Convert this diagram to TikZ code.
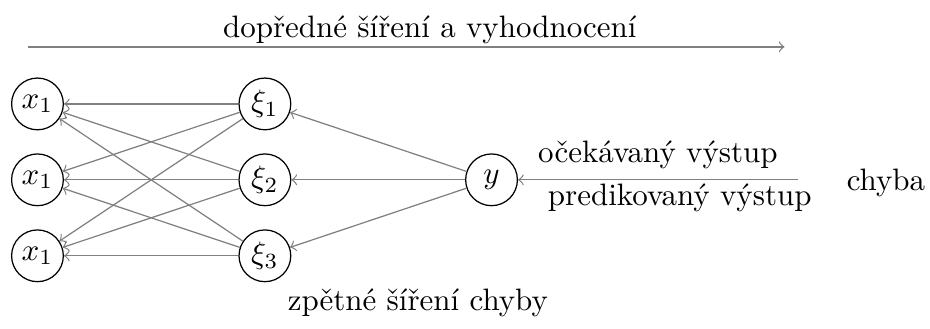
\documentclass[tikz,border=0pt]{standalone}
\usepackage{amsmath}
\usepackage{tikz}
\usetikzlibrary{arrows,shapes,positioning,calc}

\begin{document}
\begin{tikzpicture}[
  neuron/.style={circle,draw,inner sep=1pt,minimum size=16.7pt},
  tok/.style={->,gray}
  ]
  \useasboundingbox (0,0) rectangle (10.55,3.73);

  % vstupni vrstva
  \node[neuron] (x1) at (0.425,2.551) {$x_1$};
  \node[neuron] (x2) at (0.425,1.690) {$x_1$};
  \node[neuron] (x3) at (0.425,0.828) {$x_1$};

  % skryta vrstva
  \node[neuron] (h1) at (3.005,2.551) {$\xi_1$};
  \node[neuron] (h2) at (3.005,1.690) {$\xi_2$};
  \node[neuron] (h3) at (3.005,0.828) {$\xi_3$};

  % vystup
  \node[neuron] (y) at (5.576,1.690) {$y$};
  \coordinate (E) at (9.05,1.690);
  \node (chyba) at (10.05,1.656) {chyba};

  \foreach \i in {1,2,3} {
    \draw[tok] (y) -- (h\i);
    \foreach \j in {1,2,3}
      \draw[tok] (h\i) -- (x\j);
  }

  \draw[tok] (E) -- (y) node[pos=0.5,above,text=black] {očekávaný výstup};
  \node (pred) at (7.711,1.486) {predikovaný výstup};

  \coordinate (F1) at (0.318,3.198);
  \coordinate (F2) at (8.90,3.198);
  \draw[tok] (F1) -- (F2);
  \node (dopredne) at (4.876,3.391) {dopředné šíření a vyhodnocení};
  \node (zpetne) at (4.74,0.295) {zpětné šíření chyby};
\end{tikzpicture}
\end{document}
